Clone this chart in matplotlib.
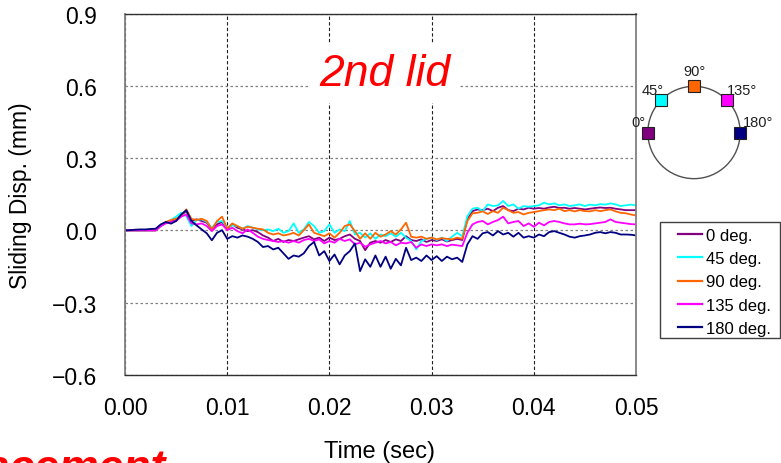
import numpy as np
import matplotlib
matplotlib.use("Agg")
import matplotlib.pyplot as plt
from matplotlib.patches import Circle, Rectangle

# ---------------- data ----------------
time_s = np.round(np.arange(0, 0.05001, 0.0005), 4)

disp_0deg = [
    0, 0, 0, 0, 0, 0, 0, 0.018, 0.032, 0.039, 0.046, 0.062, 0.080, 0.039, 0.046, 0.039,
    0.032, 0.004, 0.025, 0.035, 0.004, 0.025, 0.011, 0.004, -0.003, 0.001, -0.007, -0.021,
    -0.030, -0.044, -0.035, -0.048, -0.040, -0.044, -0.037, -0.030, -0.024, -0.037, -0.030,
    -0.044, -0.030, -0.040, -0.035, -0.024, -0.017, -0.035, -0.044, -0.082, -0.051, -0.044,
    -0.051, -0.040, -0.048, -0.037, -0.044, -0.024, -0.040, -0.044, -0.037, -0.048, -0.040,
    -0.044, -0.037, -0.046, -0.040, -0.035, -0.040, 0.046, 0.080, 0.087, 0.084, 0.090,
    0.080, 0.094, 0.101, 0.084, 0.080, 0.090, 0.087, 0.094, 0.090, 0.093, 0.090, 0.095,
    0.098, 0.093, 0.094, 0.090, 0.093, 0.090, 0.087, 0.090, 0.093, 0.095, 0.093, 0.094,
    0.090, 0.087, 0.084, 0.084, 0.084]

disp_45deg = [
    0, 0, 0, 0, 0, 0, 0, 0.021, 0.032, 0.043, 0.057, 0.073, 0.059, 0.018, 0.043, 0.046,
    0.035, 0.011, 0.035, 0.039, 0.011, 0.021, 0.018, 0.007, 0.018, 0.011, 0.004, 0.001,
    0.004, -0.003, 0.007, -0.010, -0.003, 0.029, -0.010, 0.004, 0.035, 0.018, -0.010,
    -0.003, 0.025, -0.010, 0.004, -0.003, 0.039, -0.017, -0.010, -0.030, -0.012, -0.035,
    -0.017, -0.024, -0.012, -0.026, -0.010, -0.030, -0.044, -0.079, -0.044, -0.035, -0.030,
    -0.040, -0.030, -0.044, -0.026, -0.010, -0.024, 0.059, 0.090, 0.094, 0.080, 0.108,
    0.101, 0.104, 0.122, 0.101, 0.108, 0.090, 0.101, 0.098, 0.101, 0.104, 0.115, 0.108,
    0.112, 0.104, 0.108, 0.101, 0.104, 0.108, 0.101, 0.107, 0.104, 0.109, 0.107, 0.112,
    0.108, 0.101, 0.104, 0.107, 0.104]

disp_90deg = [
    0, 0, 0, 0, 0, 0, 0, 0.021, 0.035, 0.043, 0.048, 0.059, 0.087, 0.048, 0.043, 0.048,
    0.039, 0.004, 0.039, 0.057, 0.007, 0.029, 0.018, 0.007, 0.015, 0.011, 0.007, 0.004,
    -0.010, -0.017, -0.012, -0.021, -0.017, -0.010, -0.021, 0.001, 0.025, -0.010, -0.017,
    -0.024, -0.012, -0.030, -0.010, 0.018, 0.025, -0.003, -0.035, -0.012, -0.035, -0.010,
    -0.026, -0.017, -0.003, -0.017, 0.004, 0.032, -0.026, -0.030, -0.026, -0.035, -0.030,
    -0.037, -0.032, -0.035, -0.037, -0.030, -0.035, 0.039, 0.071, 0.073, 0.079, 0.068,
    0.080, 0.073, 0.094, 0.084, 0.073, 0.076, 0.066, 0.073, 0.076, 0.080, 0.084, 0.087,
    0.084, 0.090, 0.080, 0.084, 0.079, 0.084, 0.080, 0.079, 0.084, 0.080, 0.084, 0.087,
    0.079, 0.073, 0.071, 0.066, 0.062]

disp_135deg = [
    0, 0, 0, 0, 0, 0, 0, 0.018, 0.029, 0.035, 0.039, 0.057, 0.066, 0.029, 0.025, 0.029,
    0.018, -0.003, 0.018, 0.025, 0.001, 0.011, -0.003, -0.012, 0.004, -0.010, -0.026,
    -0.035, -0.040, -0.044, -0.048, -0.044, -0.051, -0.044, -0.051, -0.040, -0.035,
    -0.044, -0.037, -0.054, -0.044, -0.051, -0.035, -0.044, -0.037, -0.058, -0.051,
    -0.068, -0.058, -0.051, -0.044, -0.054, -0.048, -0.062, -0.051, -0.054, -0.048,
    -0.072, -0.058, -0.065, -0.058, -0.062, -0.058, -0.065, -0.059, -0.062, -0.065,
    -0.010, 0.025, 0.035, 0.039, 0.025, 0.035, 0.043, 0.057, 0.029, 0.035, 0.039, 0.018,
    0.029, 0.015, 0.032, 0.021, 0.035, 0.039, 0.035, 0.029, 0.025, 0.025, 0.028, 0.025,
    0.026, 0.029, 0.032, 0.035, 0.046, 0.035, 0.032, 0.029, 0.026, 0.025]

disp_180deg = [
    0, 0.001, 0.003, 0.004, 0.004, 0.006, 0.007, 0.025, 0.035, 0.028, 0.039, 0.066, 0.084,
    0.039, 0.021, 0.004, -0.012, -0.041, -0.010, 0.001, -0.035, -0.024, -0.030, -0.021,
    -0.026, -0.035, -0.048, -0.069, -0.065, -0.079, -0.072, -0.095, -0.118, -0.104, -0.109,
    -0.095, -0.065, -0.048, -0.104, -0.086, -0.127, -0.100, -0.141, -0.104, -0.086, -0.054,
    -0.169, -0.120, -0.151, -0.104, -0.151, -0.109, -0.159, -0.118, -0.145, -0.072, -0.123,
    -0.113, -0.127, -0.104, -0.123, -0.107, -0.127, -0.109, -0.120, -0.113, -0.131, -0.058,
    -0.024, -0.035, -0.012, -0.007, -0.021, -0.003, -0.017, -0.010, -0.026, -0.010, -0.030,
    -0.024, -0.030, -0.017, -0.024, -0.007, -0.003, -0.010, -0.017, -0.026, -0.030, -0.024,
    -0.021, -0.017, -0.010, -0.007, -0.012, -0.007, -0.010, -0.017, -0.017, -0.018, -0.021]

series_labels = ["0 deg.", "45 deg.", "90 deg.", "135 deg.", "180 deg."]
series_values = [disp_0deg, disp_45deg, disp_90deg, disp_135deg, disp_180deg]
series_colors = ["#800080", "#00FFFF", "#FF6600", "#FF00FF", "#000080"]

x_ticks = [0.00, 0.01, 0.02, 0.03, 0.04, 0.05]
y_ticks = [-0.6, -0.3, 0.0, 0.3, 0.6, 0.9]

# sensor-position diagram
sensor_angles = [0, 45, 90, 135, 180]
sensor_labels = ["0°", "45°", "90°", "135°", "180°"]

# ---------------- figure ----------------
plt.rcParams["font.family"] = ["Liberation Sans", "DejaVu Sans"]
W, H = 781, 464
fig = plt.figure(figsize=(W / 100, H / 100), dpi=100)
fig.patch.set_facecolor("white")

def px_axes(x0, y0, x1, y1):
    return [x0 / W, 1 - y1 / H, (x1 - x0) / W, (y1 - y0) / H]

ax = fig.add_axes(px_axes(125, 14.5, 636, 376))
for lab, vals, col in zip(series_labels, series_values, series_colors):
    ax.plot(time_s, vals, color=col, lw=1.3, label=lab)

ax.set_xlim(0, 0.05)
ax.set_ylim(-0.6, 0.9)
ax.set_xticks(x_ticks)
ax.set_yticks(y_ticks)
ax.set_xticklabels([f"{v:.2f}" for v in x_ticks])
ax.set_yticklabels([f"{v:.1f}".replace("-", "\u2212") for v in y_ticks])
ax.tick_params(axis="both", length=0, labelsize=16.5)
ax.tick_params(axis="x", pad=15)
ax.tick_params(axis="y", pad=20)
ax.xaxis.grid(True, color="#202020", linestyle=(0, (3, 2)), lw=0.8)
ax.yaxis.grid(True, color="#808080", linestyle=(0, (2, 2)), lw=0.9)
ax.set_axisbelow(True)
for side in ["top", "bottom"]:
    ax.spines[side].set_color("#303030")
    ax.spines[side].set_linewidth(1.0)
for side in ["left", "right"]:
    ax.spines[side].set_color("#808080")
    ax.spines[side].set_linewidth(1.3)

ax.set_ylabel("Sliding Disp. (mm)", fontsize=16.5)
ax.yaxis.set_label_coords(-0.182, 0.5)
ax.set_xlabel("Time (sec)", fontsize=17)
ax.xaxis.set_label_coords(0.499, -0.21)
ax.xaxis.label.set_va("center")

# red label inside the plot
fig.text(385 / W, 1 - 74 / H, "2nd lid", color="red", fontsize=32, style="italic",
         ha="center", va="center",
         bbox=dict(facecolor="white", edgecolor="none", pad=7))

# red text at bottom-left, cut by the lower edge as in the reference
fig.text(166 / W, 1 - 481 / H, "Displacement", color="red", fontsize=32,
         style="italic", weight="bold", ha="right", va="baseline")

# legend (frame drawn separately to match padding)
fig.add_artist(Rectangle((660 / W, 1 - 339 / H), 120 / W, 116 / H,
                         transform=fig.transFigure, facecolor="white",
                         edgecolor="#404040", lw=1.0, zorder=4))
leg = fig.legend(loc="upper left", bbox_to_anchor=(678 / W, 1 - 229 / H),
                 fontsize=12, frameon=False, handlelength=1.45, handletextpad=0.2,
                 labelspacing=0.49, borderpad=0.0, borderaxespad=0)
leg.set_zorder(5)
for line in leg.get_lines():
    line.set_linewidth(1.6)

# sensor-position diagram
dax = fig.add_axes(px_axes(694 - 60, 133.5 - 60, 694 + 60, 133.5 + 60))
dax.set_xlim(-1.3, 1.3)
dax.set_ylim(-1.3, 1.3)
dax.set_aspect("equal")
dax.axis("off")
dax.add_patch(Circle((0, 0), 1.0, fill=False, edgecolor="#505050", lw=1.0))
label_pos = {0: (-1.2, 0.23), 45: (-0.9, 0.93), 90: (0.02, 1.33),
             135: (1.04, 0.93), 180: (1.38, 0.22)}
for ang, lab, col in zip(sensor_angles, sensor_labels, series_colors):
    th = np.deg2rad(180 - ang)
    dax.plot(np.cos(th), np.sin(th), marker="s", ms=8, color=col,
             markeredgecolor="#202020", markeredgewidth=0.8, zorder=3, clip_on=False)
    lx, ly = label_pos[ang]
    dax.text(lx, ly, lab, fontsize=10.5, ha="center", va="center", color="#202020", zorder=2)

fig.savefig("out.png", dpi=100)
